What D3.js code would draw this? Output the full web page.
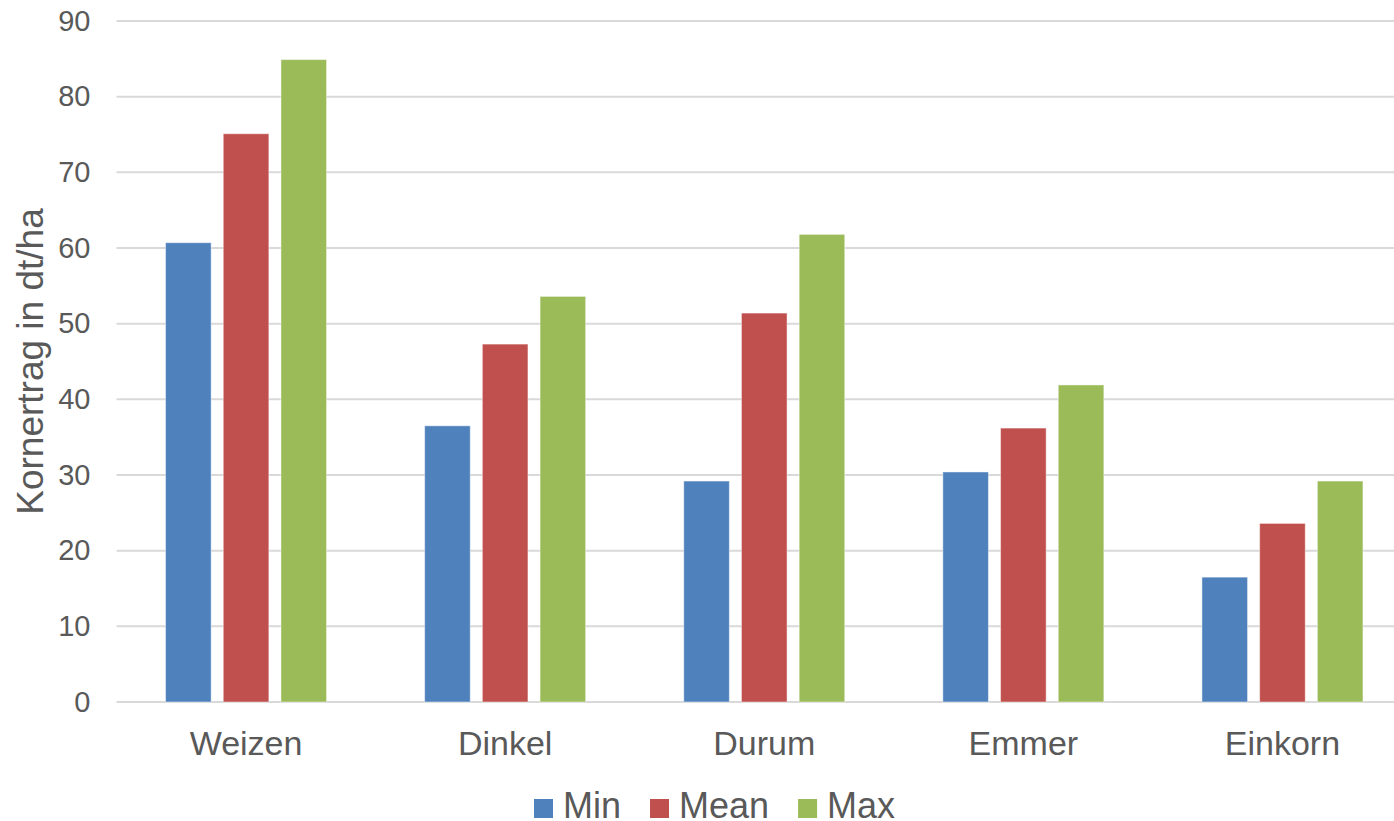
<!DOCTYPE html>
<html>
<head>
<meta charset="utf-8">
<script src="https://cdn.jsdelivr.net/npm/d3@7"></script>
<style>
  html, body { margin: 0; padding: 0; background: #fff; }
  svg { display: block; font-family: "Liberation Sans", Arial, sans-serif; }
</style>
</head>
<body>
<svg id="chart" width="1394" height="821"></svg>
<script>
// Grain yield per wheat species (dt/ha)
const categories = ["Weizen", "Dinkel", "Durum", "Emmer", "Einkorn"];
const seriesNames = ["Min", "Mean", "Max"];
const minValues  = [60.7, 36.5, 29.2, 30.4, 16.5];
const meanValues = [75.1, 47.3, 51.4, 36.2, 23.6];
const maxValues  = [84.9, 53.6, 61.8, 41.9, 29.2];
const yTicks = [0, 10, 20, 30, 40, 50, 60, 70, 80, 90];
const colors = ["#4F81BD", "#C0504D", "#9BBB59"];

const seriesValues = [minValues, meanValues, maxValues];
const rows = categories.map((c, i) => ({
  category: c,
  values: seriesNames.map((s, j) => ({ series: s, value: seriesValues[j][i] }))
}));

const svg = d3.select("#chart");
const textColor = "#595959";
const gridColor = "#D9D9D9";

const plot = { left: 116.5, right: 1412, top: 21, bottom: 702 };

const x0 = d3.scaleBand().domain(categories).range([plot.left, plot.right]).padding(0);
const x1 = d3.scaleBand().domain(seriesNames).range([0, x0.bandwidth()])
  .paddingInner(0.21).paddingOuter(0.85);
const y = d3.scaleLinear().domain([0, 90]).range([plot.bottom, plot.top]);
const color = d3.scaleOrdinal().domain(seriesNames).range(colors);

// horizontal gridlines
svg.append("g").selectAll("line")
  .data(yTicks)
  .join("line")
  .attr("x1", plot.left).attr("x2", plot.right)
  .attr("y1", d => y(d)).attr("y2", d => y(d))
  .attr("stroke", gridColor).attr("stroke-width", 2);

// y axis labels
const yAxis = svg.append("g")
  .attr("transform", `translate(${plot.left},0)`)
  .call(d3.axisLeft(y).tickValues(yTicks).tickSize(0).tickPadding(26));
yAxis.select(".domain").remove();
yAxis.selectAll("text")
  .attr("fill", textColor)
  .style("font-size", "29px")
  .style("font-family", "'Liberation Sans', Arial, sans-serif");

// bars
svg.append("g").selectAll("g")
  .data(rows)
  .join("g")
  .attr("transform", d => `translate(${x0(d.category)},0)`)
  .selectAll("rect")
  .data(d => d.values)
  .join("rect")
  .attr("x", d => x1(d.series))
  .attr("width", x1.bandwidth())
  .attr("y", d => y(d.value))
  .attr("height", d => y(0) - y(d.value))
  .attr("fill", d => color(d.series))
  .attr("stroke", "#ffffff")
  .attr("stroke-opacity", 0.45)
  .attr("stroke-width", 1);

// category axis
const xAxis = svg.append("g")
  .attr("transform", `translate(0,${plot.bottom})`)
  .call(d3.axisBottom(x0).tickSize(0));
xAxis.select(".domain").remove();
xAxis.selectAll("text")
  .attr("y", 53).attr("dy", 0)
  .attr("fill", textColor)
  .style("font-size", "34px")
  .style("font-family", "'Liberation Sans', Arial, sans-serif");

// y axis title
svg.append("text")
  .attr("transform", `translate(43,${(plot.top + plot.bottom) / 2}) rotate(-90)`)
  .attr("text-anchor", "middle")
  .attr("fill", textColor)
  .style("font-size", "37px")
  .text("Kornertrag in dt/ha");

// legend
const legend = svg.append("g");
let lx = 534;
seriesNames.forEach((s, i) => {
  legend.append("rect")
    .attr("x", lx).attr("y", 799)
    .attr("width", 19).attr("height", 19)
    .attr("fill", color(s));
  const t = legend.append("text")
    .attr("x", lx + 29).attr("y", 818)
    .attr("fill", textColor)
    .style("font-size", "36px")
    .text(s);
  lx += 29 + t.node().getComputedTextLength() + 29;
});
</script>
</body>
</html>
